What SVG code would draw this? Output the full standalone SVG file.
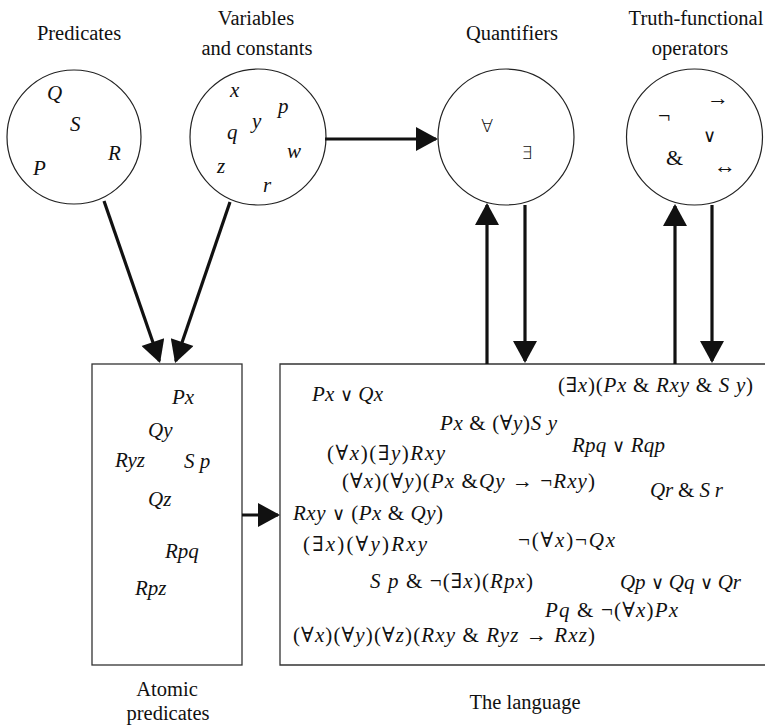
<svg xmlns="http://www.w3.org/2000/svg" width="765" height="725" viewBox="0 0 765 725">
  <style>
    text { font-family: "Liberation Serif", "DejaVu Serif", serif; fill: #111; }
    .lbl { font-size: 20.5px; text-anchor: middle; }
    .f { font-size: 21px; }
    .i { font-style: italic; }
    .v { font-family: "DejaVu Sans", "Liberation Serif", serif; font-weight: 200; font-size: 18px; }
    .sym { font-size: 22px; }
    .q { font-size: 18px; font-family: "DejaVu Sans", "Liberation Serif", serif; font-weight: 200; }
    .ring { fill: #fff; stroke: #222; stroke-width: 1.2; }
    .frame { fill: none; stroke: #333; stroke-width: 1.3; }
    .conn line { stroke: #111; stroke-width: 3.2; marker-end: url(#head); }
  </style>
  <defs>
    <marker id="head" markerUnits="userSpaceOnUse" markerWidth="24" markerHeight="24" viewBox="0 0 22 24" refX="20" refY="12" orient="auto">
      <path d="M0,0 L22,12 L0,24 Z" fill="#111"/>
    </marker>
  </defs>

  <!-- Predicates -->
  <g id="predicates">
    <text class="lbl" x="79" y="40">Predicates</text>
    <circle class="ring" cx="74" cy="137" r="67"/>
    <text class="f i" x="47" y="100">Q</text>
    <text class="f i" x="70" y="131">S</text>
    <text class="f i" x="108" y="160">R</text>
    <text class="f i" x="33" y="175">P</text>
  </g>

  <!-- Variables and constants -->
  <g id="variables">
    <text class="lbl" x="256" y="25">Variables</text>
    <text class="lbl" x="257" y="55">and constants</text>
    <circle class="ring" cx="258" cy="137" r="68"/>
    <text class="f i" x="230" y="97">x</text>
    <text class="f i" x="278" y="113">p</text>
    <text class="f i" x="252" y="128">y</text>
    <text class="f i" x="227" y="139">q</text>
    <text class="f i" x="287" y="158">w</text>
    <text class="f i" x="217" y="173">z</text>
    <text class="f i" x="263" y="192">r</text>
  </g>

  <!-- Quantifiers -->
  <g id="quantifiers">
    <text class="lbl" x="512" y="40">Quantifiers</text>
    <circle class="ring" cx="506" cy="137" r="68"/>
    <text class="q" x="481" y="132">∀</text>
    <text class="q" x="521" y="159">∃</text>
  </g>

  <!-- Truth-functional operators -->
  <g id="operators">
    <text class="lbl" x="696" y="25">Truth-functional</text>
    <text class="lbl" x="690" y="55">operators</text>
    <circle class="ring" cx="694.5" cy="137" r="68"/>
    <text class="sym" x="707" y="105">→</text>
    <text class="sym" x="658" y="123">¬</text>
    <text class="v" x="703" y="142">∨</text>
    <text class="sym" x="666" y="165">&amp;</text>
    <text class="sym" x="714" y="173">↔</text>
  </g>

  <!-- Atomic predicates -->
  <g id="atomic">
    <rect class="frame" x="92" y="364" width="150" height="301"/>
    <text class="f i" x="172" y="404">Px</text>
    <text class="f i" x="148" y="437">Qy</text>
    <text class="f i" x="115" y="467">Ryz</text>
    <text class="f i" x="184" y="468">S p</text>
    <text class="f i" x="148" y="506">Qz</text>
    <text class="f i" x="165" y="558">Rpq</text>
    <text class="f i" x="135" y="595">Rpz</text>
    <text class="lbl" x="167" y="696">Atomic</text>
    <text class="lbl" x="168" y="720">predicates</text>
  </g>

  <!-- The language -->
  <g id="language">
    <path class="frame" d="M767,364 H280 V665 H767"/>
    <text class="f" x="312" y="401" textLength="71" lengthAdjust="spacing"><tspan class="i">Px</tspan> <tspan class="v">∨</tspan> <tspan class="i">Qx</tspan></text>
    <text class="f" x="558" y="392" textLength="195" lengthAdjust="spacing">(∃<tspan class="i">x</tspan>)(<tspan class="i">Px</tspan> &amp; <tspan class="i">Rxy</tspan> &amp; <tspan class="i">S y</tspan>)</text>
    <text class="f" x="440" y="430" textLength="117" lengthAdjust="spacing"><tspan class="i">Px</tspan> &amp; (∀<tspan class="i">y</tspan>)<tspan class="i">S y</tspan></text>
    <text class="f" x="327" y="460" textLength="118" lengthAdjust="spacing">(∀<tspan class="i">x</tspan>)(∃<tspan class="i">y</tspan>)<tspan class="i">Rxy</tspan></text>
    <text class="f" x="572" y="452" textLength="93" lengthAdjust="spacing"><tspan class="i">Rpq</tspan> <tspan class="v">∨</tspan> <tspan class="i">Rqp</tspan></text>
    <text class="f" x="342" y="488" textLength="253" lengthAdjust="spacing">(∀<tspan class="i">x</tspan>)(∀<tspan class="i">y</tspan>)(<tspan class="i">Px</tspan> &amp;<tspan class="i">Qy</tspan> → ¬<tspan class="i">Rxy</tspan>)</text>
    <text class="f" x="650" y="497" textLength="73" lengthAdjust="spacing"><tspan class="i">Qr</tspan> &amp; <tspan class="i">S r</tspan></text>
    <text class="f" x="293" y="520" textLength="150" lengthAdjust="spacing"><tspan class="i">Rxy</tspan> <tspan class="v">∨</tspan> (<tspan class="i">Px</tspan> &amp; <tspan class="i">Qy</tspan>)</text>
    <text class="f" x="303" y="551" textLength="124" lengthAdjust="spacing">(∃<tspan class="i">x</tspan>)(∀<tspan class="i">y</tspan>)<tspan class="i">Rxy</tspan></text>
    <text class="f" x="518" y="547" textLength="97" lengthAdjust="spacing">¬(∀<tspan class="i">x</tspan>)¬<tspan class="i">Qx</tspan></text>
    <text class="f" x="620" y="589" textLength="121" lengthAdjust="spacing"><tspan class="i">Qp</tspan> <tspan class="v">∨</tspan> <tspan class="i">Qq</tspan> <tspan class="v">∨</tspan> <tspan class="i">Qr</tspan></text>
    <text class="f" x="370" y="588" textLength="163" lengthAdjust="spacing"><tspan class="i">S p</tspan> &amp; ¬(∃<tspan class="i">x</tspan>)(<tspan class="i">Rpx</tspan>)</text>
    <text class="f" x="545" y="617" textLength="133" lengthAdjust="spacing"><tspan class="i">Pq</tspan> &amp; ¬(∀<tspan class="i">x</tspan>)<tspan class="i">Px</tspan></text>
    <text class="f" x="293" y="642" textLength="302" lengthAdjust="spacing">(∀<tspan class="i">x</tspan>)(∀<tspan class="i">y</tspan>)(∀<tspan class="i">z</tspan>)(<tspan class="i">Rxy</tspan> &amp; <tspan class="i">Ryz</tspan> → <tspan class="i">Rxz</tspan>)</text>
    <text class="lbl" x="525" y="709">The language</text>
  </g>

  <!-- Connectors -->
  <g id="connectors" class="conn">
    <line x1="104" y1="201" x2="159.4" y2="361.1"/>
    <line x1="230" y1="202" x2="175.7" y2="361.1"/>
    <line x1="325" y1="139" x2="436" y2="139"/>
    <line x1="487" y1="364" x2="487" y2="205"/>
    <line x1="525" y1="205" x2="525" y2="361"/>
    <line x1="675" y1="364" x2="675" y2="206"/>
    <line x1="712" y1="205" x2="712" y2="361"/>
    <line x1="242" y1="515" x2="278" y2="515"/>
  </g>
</svg>
